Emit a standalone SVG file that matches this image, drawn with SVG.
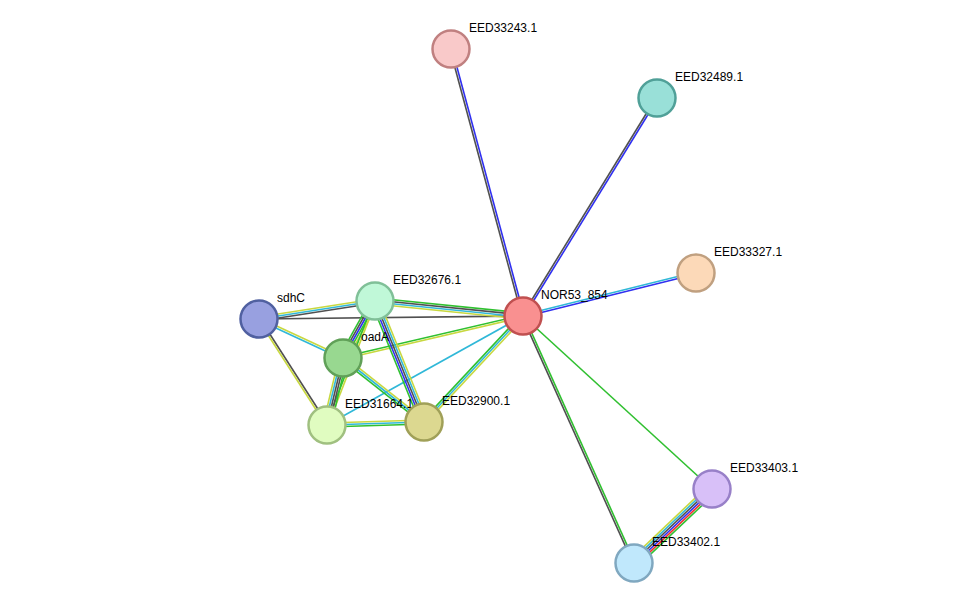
<svg xmlns="http://www.w3.org/2000/svg" width="975" height="609" viewBox="0 0 975 609">
<style>
line{stroke-width:1.6;fill:none}
.g{stroke:#30c030}.b{stroke:#3030f0}.k{stroke:#505050}.c{stroke:#30b8d8}.y{stroke:#c8d840}.r{stroke:#f03030}
circle{stroke-width:2.5}
text{font-family:"Liberation Sans",Arial,sans-serif;font-size:12px;fill:#000}
</style>
<rect width="975" height="609" fill="#fff"/>
<g id="edges">
<line class="b" x1="523" y1="316" x2="451" y2="49" transform="translate(1,-0.3)"/>
<line class="k" x1="523" y1="316" x2="451" y2="49" transform="translate(-1,0.3)"/>
<line class="b" x1="523" y1="316" x2="657" y2="98" transform="translate(0.85,0.52)"/>
<line class="k" x1="523" y1="316" x2="657" y2="98" transform="translate(-0.85,-0.52)"/>
<line class="b" x1="523" y1="316" x2="696" y2="273" transform="translate(0.24,0.97)"/>
<line class="c" x1="523" y1="316" x2="696" y2="273" transform="translate(-0.24,-0.97)"/>
<line class="g" x1="523" y1="316" x2="712" y2="489"/>
<line class="g" x1="523" y1="316" x2="634" y2="563" transform="translate(0.91,-0.41)"/>
<line class="k" x1="523" y1="316" x2="634" y2="563" transform="translate(-0.91,0.41)"/>
<line class="y" x1="712" y1="489" x2="634" y2="563" transform="translate(-3.45,-3.65)"/>
<line class="c" x1="712" y1="489" x2="634" y2="563" transform="translate(-2.07,-2.19)"/>
<line class="k" x1="712" y1="489" x2="634" y2="563" transform="translate(-0.69,-0.73)"/>
<line class="b" x1="712" y1="489" x2="634" y2="563" transform="translate(0.69,0.73)"/>
<line class="r" x1="712" y1="489" x2="634" y2="563" transform="translate(2.07,2.19)"/>
<line class="g" x1="712" y1="489" x2="634" y2="563" transform="translate(3.45,3.65)"/>
<line class="k" x1="523" y1="316" x2="259" y2="319"/>
<line class="g" x1="523" y1="316" x2="375" y2="301" transform="translate(0.3,-3)"/>
<line class="k" x1="523" y1="316" x2="375" y2="301" transform="translate(0.1,-1)"/>
<line class="c" x1="523" y1="316" x2="375" y2="301" transform="translate(-0.1,1)"/>
<line class="y" x1="523" y1="316" x2="375" y2="301" transform="translate(-0.3,3)"/>
<line class="g" x1="523" y1="316" x2="343" y2="358" transform="translate(-0.23,-1)"/>
<line class="y" x1="523" y1="316" x2="343" y2="358" transform="translate(0.23,1)"/>
<line class="c" x1="523" y1="316" x2="327" y2="425"/>
<line class="g" x1="523" y1="316" x2="424" y2="422" transform="translate(-1.46,-1.36)"/>
<line class="c" x1="523" y1="316" x2="424" y2="422"/>
<line class="y" x1="523" y1="316" x2="424" y2="422" transform="translate(1.46,1.36)"/>
<line class="y" x1="259" y1="319" x2="375" y2="301" transform="translate(-0.3,-2)"/>
<line class="c" x1="259" y1="319" x2="375" y2="301"/>
<line class="k" x1="259" y1="319" x2="375" y2="301" transform="translate(0.3,2)"/>
<line class="y" x1="259" y1="319" x2="343" y2="358" transform="translate(0.42,-0.91)"/>
<line class="c" x1="259" y1="319" x2="343" y2="358" transform="translate(-0.42,0.91)"/>
<line class="k" x1="259" y1="319" x2="327" y2="425" transform="translate(0.84,-0.54)"/>
<line class="y" x1="259" y1="319" x2="327" y2="425" transform="translate(-0.84,0.54)"/>
<line class="y" x1="375" y1="301" x2="343" y2="358" transform="translate(3.48,1.96)"/>
<line class="g" x1="375" y1="301" x2="343" y2="358" transform="translate(1.74,0.98)"/>
<line class="b" x1="375" y1="301" x2="343" y2="358"/>
<line class="k" x1="375" y1="301" x2="343" y2="358" transform="translate(-1.74,-0.98)"/>
<line class="g" x1="375" y1="301" x2="343" y2="358" transform="translate(-3.48,-1.96)"/>
<line class="g" x1="375" y1="301" x2="327" y2="425" transform="translate(-0.93,-0.36)"/>
<line class="y" x1="375" y1="301" x2="327" y2="425" transform="translate(0.93,0.36)"/>
<line class="g" x1="375" y1="301" x2="424" y2="422" transform="translate(-3.72,1.52)"/>
<line class="b" x1="375" y1="301" x2="424" y2="422" transform="translate(-1.86,0.76)"/>
<line class="k" x1="375" y1="301" x2="424" y2="422"/>
<line class="c" x1="375" y1="301" x2="424" y2="422" transform="translate(1.86,-0.76)"/>
<line class="y" x1="375" y1="301" x2="424" y2="422" transform="translate(3.72,-1.52)"/>
<line class="y" x1="343" y1="358" x2="327" y2="425" transform="translate(-3.88,-0.92)"/>
<line class="c" x1="343" y1="358" x2="327" y2="425" transform="translate(-1.94,-0.46)"/>
<line class="k" x1="343" y1="358" x2="327" y2="425"/>
<line class="k" x1="343" y1="358" x2="327" y2="425" transform="translate(1.94,0.46)"/>
<line class="g" x1="343" y1="358" x2="327" y2="425" transform="translate(3.88,0.92)"/>
<line class="g" x1="343" y1="358" x2="424" y2="422" transform="translate(-1.24,1.58)"/>
<line class="c" x1="343" y1="358" x2="424" y2="422"/>
<line class="y" x1="343" y1="358" x2="424" y2="422" transform="translate(1.24,-1.58)"/>
<line class="y" x1="327" y1="425" x2="424" y2="422" transform="translate(0,-2)"/>
<line class="c" x1="327" y1="425" x2="424" y2="422"/>
<line class="g" x1="327" y1="425" x2="424" y2="422" transform="translate(0,2)"/>
</g>
<g id="EED33243.1"><circle cx="451" cy="49" r="18.5" fill="#f9c9c9" stroke="#c08080"/><text x="469" y="32">EED33243.1</text></g>
<g id="EED32489.1"><circle cx="657" cy="98" r="18.5" fill="#99e0d8" stroke="#50a098"/><text x="675" y="81">EED32489.1</text></g>
<g id="EED33327.1"><circle cx="696" cy="273" r="18.5" fill="#fcd9b8" stroke="#c0a080"/><text x="714" y="256">EED33327.1</text></g>
<g id="NOR53_854"><circle cx="523" cy="316" r="18.5" fill="#f99090" stroke="#c05050"/><text x="541" y="299">NOR53_854</text></g>
<g id="sdhC"><circle cx="259" cy="319" r="18.5" fill="#98a0e0" stroke="#5060a0"/><text x="277" y="302">sdhC</text></g>
<g id="EED32676.1"><circle cx="375" cy="301" r="18.5" fill="#c0f8d8" stroke="#80c098"/><text x="393" y="284">EED32676.1</text></g>
<g id="oadA"><circle cx="343" cy="358" r="18.5" fill="#98d890" stroke="#60a058"/><text x="361" y="341">oadA</text></g>
<g id="EED31664.1"><circle cx="327" cy="425" r="18.5" fill="#e0fcc0" stroke="#a0c080"/><text x="345" y="408">EED31664.1</text></g>
<g id="EED32900.1"><circle cx="424" cy="422" r="18.5" fill="#dcd890" stroke="#a0a058"/><text x="442" y="405">EED32900.1</text></g>
<g id="EED33403.1"><circle cx="712" cy="489" r="18.5" fill="#d8c0f8" stroke="#9880c8"/><text x="730" y="472">EED33403.1</text></g>
<g id="EED33402.1"><circle cx="634" cy="563" r="18.5" fill="#c0e8fc" stroke="#80a8c0"/><text x="652" y="546">EED33402.1</text></g>
</svg>
